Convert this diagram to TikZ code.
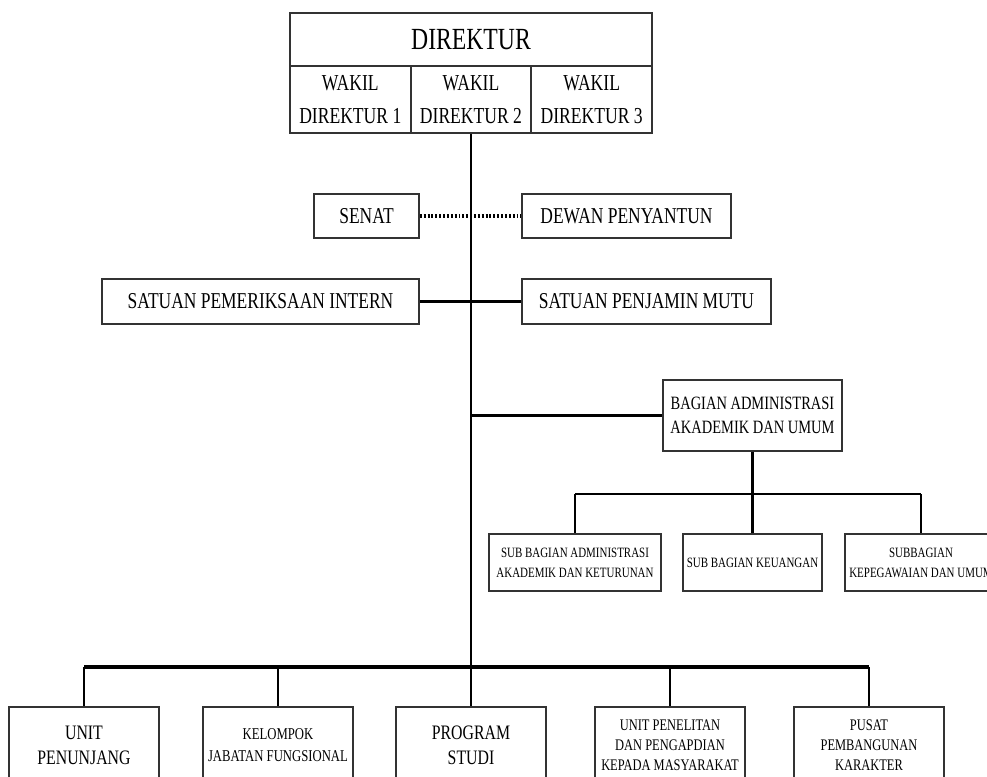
\documentclass[tikz,border=0pt]{standalone}
\usepackage{fontspec}
\setmainfont{Liberation Serif}[FakeStretch=0.77]
\usetikzlibrary{positioning}
\pgfdeclarelayer{edgelayer}
\pgfdeclarelayer{nodelayer}
\pgfsetlayers{nodelayer,main,edgelayer}
\tikzset{
	kotak/.style 2 args={draw=black!80, line width=1pt, inner sep=0pt, align=center,
		minimum width=#1*0.02cm, minimum height=#2*0.02cm},
	garis/.style={draw=black, line width=1.2pt},
	garistebal/.style={draw=black, line width=1.8pt},
	titik/.style={draw=black, line width=1.9pt, dash pattern=on 1.1pt off 1.1pt},
}
\newcommand{\ukuran}[2]{\fontsize{#1}{#2}\selectfont}

\begin{document}
\begin{tikzpicture}[x=0.02cm, y=-0.02cm]
	\useasboundingbox (0, 0) rectangle (987, 777);
	\begin{pgfonlayer}{nodelayer}
		\node [kotak={362}{53}, font=\ukuran{17.5}{20}] (0) at (471, 39.5) {DIREKTUR};
		\node [kotak={120.7}{67}, font=\ukuran{13}{18.5}] (1) at (350.3, 99.5) {WAKIL\\DIREKTUR 1};
		\node [kotak={120.7}{67}, font=\ukuran{13}{18.5}] (2) at (471, 99.5) {WAKIL\\DIREKTUR 2};
		\node [kotak={120.7}{67}, font=\ukuran{13}{18.5}] (3) at (591.7, 99.5) {WAKIL\\DIREKTUR 3};
		\node [kotak={105}{44}, font=\ukuran{12.9}{15}] (4) at (366.5, 216) {SENAT};
		\node [kotak={209}{44}, font=\ukuran{12.9}{15}] (5) at (626.5, 216) {DEWAN PENYANTUN};
		\node [kotak={317}{45}, font=\ukuran{12.9}{15}] (6) at (260.5, 301.5) {SATUAN PEMERIKSAAN INTERN};
		\node [kotak={249}{45}, font=\ukuran{12.9}{15}] (7) at (646.5, 301.5) {SATUAN PENJAMIN MUTU};
		\node [kotak={179}{71}, font=\ukuran{10.7}{13.3}] (8) at (752.5, 415.5) {BAGIAN ADMINISTRASI\\AKADEMIK DAN UMUM};
		\node [kotak={172}{57}, font=\ukuran{8.1}{11.4}] (9) at (575, 562.5) {SUB BAGIAN ADMINISTRASI\\AKADEMIK DAN KETURUNAN};
		\node [kotak={139}{57}, font=\ukuran{8.1}{11.4}] (10) at (752.5, 562.5) {SUB BAGIAN KEUANGAN};
		\node [kotak={152}{57}, font=\ukuran{8.1}{11.4}] (11) at (921, 562.5) {SUBBAGIAN\\KEPEGAWAIAN DAN UMUM};
		\node [kotak={150}{76}, font=\ukuran{11.7}{14.2}] (12) at (84, 745) {UNIT\\PENUNJANG};
		\node [kotak={150}{76}, font=\ukuran{9.4}{12.5}] (13) at (278, 745) {KELOMPOK\\JABATAN FUNGSIONAL};
		\node [kotak={150}{76}, font=\ukuran{11.7}{14.2}] (14) at (471, 745) {PROGRAM\\STUDI};
		\node [kotak={150}{76}, font=\ukuran{9.2}{11.4}] (15) at (670, 745) {UNIT PENELITAN\\DAN PENGAPDIAN\\KEPADA MASYARAKAT};
		\node [kotak={150}{76}, font=\ukuran{9.2}{11.4}] (16) at (869, 745) {PUSAT\\PEMBANGUNAN\\KARAKTER};
		\coordinate (17) at (471, 667);
		\coordinate (18) at (84, 667);
		\coordinate (19) at (278, 667);
		\coordinate (20) at (670, 667);
		\coordinate (21) at (869, 667);
		\coordinate (22) at (471, 415.5);
		\coordinate (23) at (752.5, 494);
		\coordinate (24) at (575, 494);
		\coordinate (25) at (921, 494);
	\end{pgfonlayer}
	\begin{pgfonlayer}{edgelayer}
		\draw [garis] (2.south) to (17);
		\draw [titik] (4) to (5);
		\draw [garistebal] (6) to (7);
		\draw [garis] (22) to (8);
		\draw [garis] (8) to (23);
		\draw [garis] (24) to (25);
		\draw [garis] (24) to (9);
		\draw [garis] (23) to (10);
		\draw [garis] (25) to (11);
		\draw [garistebal] (18) to (21);
		\draw [garis] (18) to (12);
		\draw [garis] (19) to (13);
		\draw [garis] (17) to (14);
		\draw [garis] (20) to (15);
		\draw [garis] (21) to (16);
	\end{pgfonlayer}
\end{tikzpicture}
\end{document}
